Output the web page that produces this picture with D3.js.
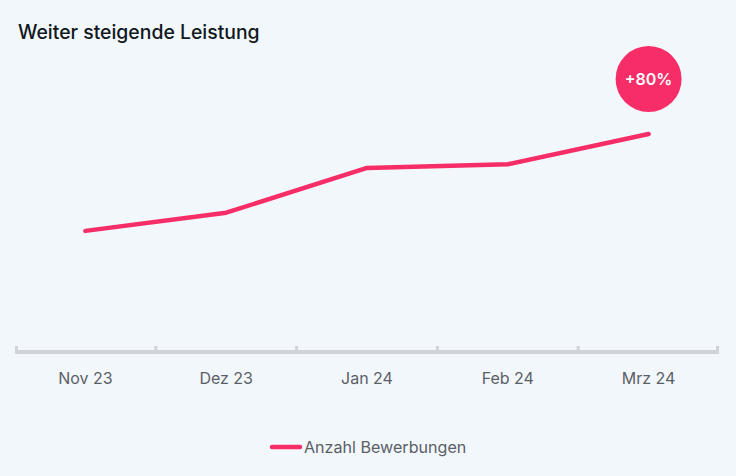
<!DOCTYPE html>
<html><head><meta charset="utf-8">
<script src="https://cdn.jsdelivr.net/npm/d3@7"></script>
<style>
html,body{margin:0;padding:0;background:#f2f7fb;}
svg{display:block;}
</style></head>
<body>
<svg id="chart" width="736" height="476"></svg>
<script>
const categories = ["Nov 23","Dez 23","Jan 24","Feb 24","Mrz 24"];
const values = [100, 115, 152, 155, 180];
const seriesName = "Anzahl Bewerbungen";
const title = "Weiter steigende Leistung";
const badgeText = "+80%";

const W = 736, H = 476;
const margin = {left:15, right:17, top:60, bottom:124};
const svg = d3.select("#chart");
svg.append("rect").attr("width",W).attr("height",H).attr("fill","#f2f7fb");

const x = d3.scaleBand().domain(categories).range([margin.left, W - margin.right]);
const y = d3.scaleLinear().domain([0, 180]).range([352, 134]);

const font = "Inter, Roboto, 'Noto Sans', sans-serif";
const red = "#f72d67";

svg.append("text").attr("x",18).attr("y",39).text(title)
  .attr("font-family",font).attr("font-size",19.4).attr("font-weight",500).attr("fill","#111820");

// axis baseline
const axisY = 352;
svg.append("line").attr("x1",x.range()[0]).attr("x2",x.range()[1])
  .attr("y1",axisY).attr("y2",axisY).attr("stroke","#d0d4d9").attr("stroke-width",4);
const bounds = categories.map(c => x(c)).concat([x.range()[1]]);
svg.selectAll(".tick").data(bounds).enter().append("rect")
  .attr("x", d => Math.min(Math.max(d - 1.5, x.range()[0]), x.range()[1]-3))
  .attr("y", axisY - 6).attr("width",3).attr("height",6).attr("fill","#d0d4d9");

svg.selectAll(".lbl").data(categories).enter().append("text")
  .attr("x", d => x(d) + x.bandwidth()/2).attr("y", 384)
  .attr("text-anchor","middle").text(d => d)
  .attr("font-family",font).attr("font-size",16).attr("fill","#5a5f66");

const line = d3.line().x((d,i) => x(categories[i]) + x.bandwidth()/2).y(d => y(d));
svg.append("path").datum(values).attr("d", line).attr("fill","none")
  .attr("stroke",red).attr("stroke-width",4.5).attr("stroke-linecap","round").attr("stroke-linejoin","round");

// badge
const last = categories.length - 1;
const bx = x(categories[last]) + x.bandwidth()/2;
svg.append("circle").attr("cx", bx).attr("cy", 79).attr("r", 33).attr("fill", red);
svg.append("text").attr("x", bx).attr("y", 85).attr("text-anchor","middle").text(badgeText)
  .attr("font-family",font).attr("font-size",16).attr("font-weight",600).attr("fill","#fff");

// legend
svg.append("line").attr("x1",272).attr("x2",300).attr("y1",447).attr("y2",447)
  .attr("stroke",red).attr("stroke-width",4.5).attr("stroke-linecap","round");
svg.append("text").attr("x",304).attr("y",453).text(seriesName)
  .attr("font-family",font).attr("font-size",16.1).attr("fill","#5a5f66");
</script>
</body></html>
